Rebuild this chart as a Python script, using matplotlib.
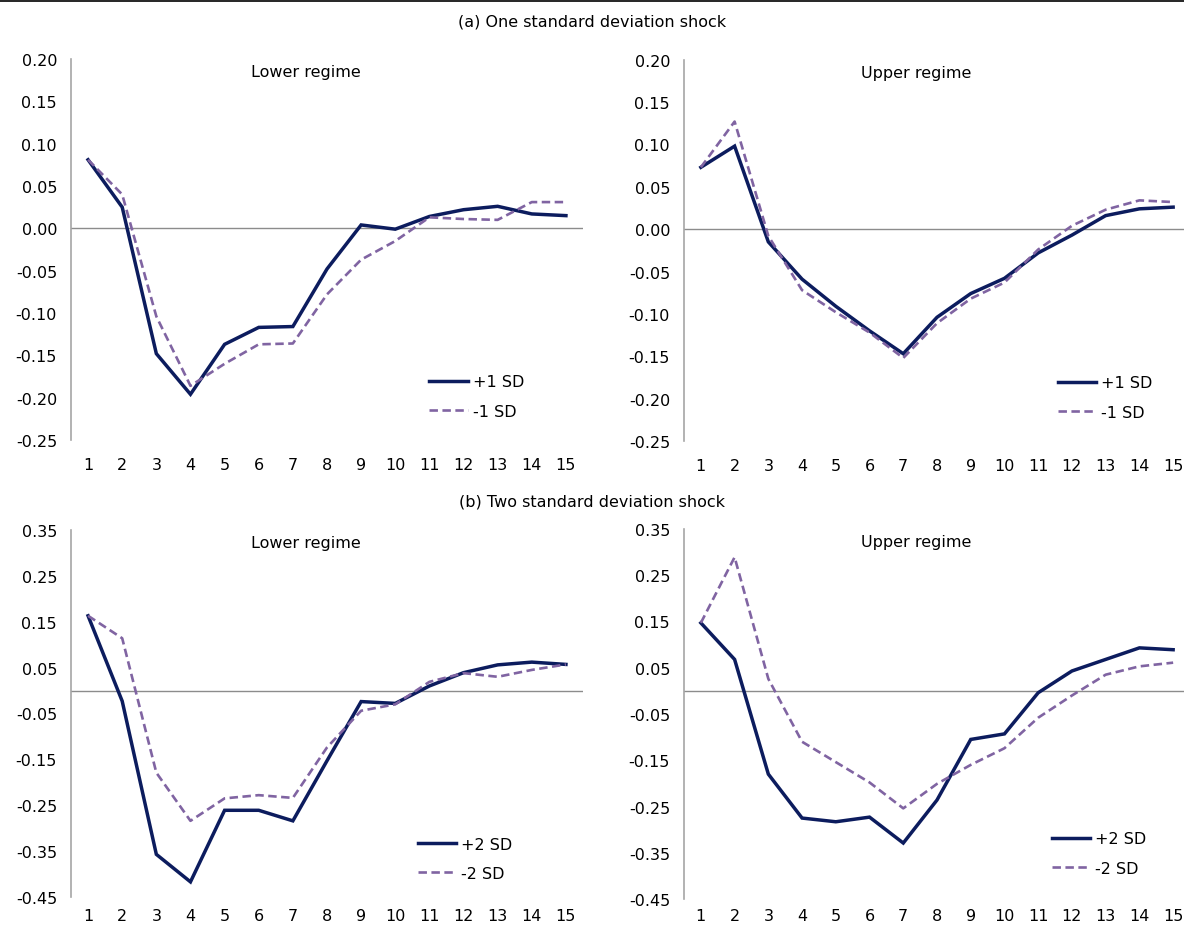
import matplotlib.pyplot as plt
from matplotlib.lines import Line2D

plt.rcParams['font.family'] = ['DejaVu Sans']
plt.rcParams['xtick.labelsize'] = 11.5
plt.rcParams['ytick.labelsize'] = 11.5

periods = list(range(1, 16))

# (a) one standard deviation shock
a_lower_pos = [0.081, 0.025, -0.148, -0.196, -0.137, -0.117, -0.116, -0.048, 0.004, -0.001, 0.014, 0.022, 0.026, 0.017, 0.015]
a_lower_neg = [0.081, 0.040, -0.104, -0.186, -0.160, -0.137, -0.136, -0.078, -0.037, -0.015, 0.013, 0.011, 0.010, 0.031, 0.031]
a_upper_pos = [0.073, 0.098, -0.015, -0.059, -0.091, -0.120, -0.147, -0.104, -0.076, -0.058, -0.028, -0.007, 0.016, 0.024, 0.026]
a_upper_neg = [0.073, 0.127, -0.008, -0.072, -0.098, -0.122, -0.152, -0.111, -0.082, -0.063, -0.024, 0.004, 0.023, 0.034, 0.032]

# (b) two standard deviation shock
b_lower_pos = [0.163, -0.023, -0.357, -0.417, -0.261, -0.261, -0.284, -0.153, -0.024, -0.028, 0.010, 0.039, 0.056, 0.062, 0.057]
b_lower_neg = [0.163, 0.114, -0.179, -0.284, -0.235, -0.228, -0.234, -0.124, -0.044, -0.030, 0.019, 0.038, 0.030, 0.045, 0.057]
b_upper_pos = [0.147, 0.068, -0.180, -0.275, -0.283, -0.273, -0.329, -0.236, -0.105, -0.093, -0.004, 0.043, 0.068, 0.093, 0.089]
b_upper_neg = [0.147, 0.289, 0.026, -0.110, -0.154, -0.198, -0.254, -0.201, -0.160, -0.124, -0.058, -0.010, 0.035, 0.053, 0.061]

a_ticks = [0.20, 0.15, 0.10, 0.05, 0.00, -0.05, -0.10, -0.15, -0.20, -0.25]
b_ticks = [0.35, 0.25, 0.15, 0.05, -0.05, -0.15, -0.25, -0.35, -0.45]

navy = '#0c1c5e'
purple = '#8064a2'

W, H = 1184, 929
fig = plt.figure(figsize=(W / 100, H / 100), dpi=100)


def px_axes(x0, x1, ytop, ybot):
    return fig.add_axes([x0 / W, 1 - ybot / H, (x1 - x0) / W, (ybot - ytop) / H])


def panel(ax, pos, neg, ticks, title, labels, leg_xy, xpad):
    ax.plot(periods, pos, color=navy, lw=2.5, label=labels[0], solid_joinstyle='miter')
    ax.plot(periods, neg, color=purple, lw=1.9, dashes=(3.2, 1.7), label=labels[1])
    ax.axhline(0, color='#8c8c8c', lw=1.0, zorder=0)
    ax.set_xlim(0.5, 15.5)
    ax.set_ylim(min(ticks), max(ticks))
    ax.set_xticks(periods)
    ax.set_yticks(ticks)
    ax.set_yticklabels(['%.2f' % t for t in ticks])
    for s in ['top', 'right', 'bottom']:
        ax.spines[s].set_visible(False)
    ax.spines['left'].set_color('#a6a6a6')
    ax.spines['left'].set_linewidth(1.2)
    ax.tick_params(axis='y', length=0, pad=10)
    ax.tick_params(axis='x', length=0, pad=xpad)
    ax.patch.set_alpha(0)
    ax.text(0.458, 0.966, title, transform=ax.transAxes, ha='center', va='center', fontsize=11.5)
    ax.legend(loc='center left', bbox_to_anchor=leg_xy, frameon=False, fontsize=11.5,
              handlelength=2.4, handletextpad=0.3, labelspacing=0.9,
              borderaxespad=0, borderpad=0)


ax1 = px_axes(71, 583, 60, 441)
panel(ax1, a_lower_pos, a_lower_neg, a_ticks, 'Lower regime', ['+1 SD', '-1 SD'], (0.70, 0.114), 12)
ax2 = px_axes(684, 1190, 60.7, 442)
panel(ax2, a_upper_pos, a_upper_neg, a_ticks, 'Upper regime', ['+1 SD', '-1 SD'], (0.739, 0.114), 12)
ax3 = px_axes(71, 583, 531, 898)
panel(ax3, b_lower_pos, b_lower_neg, b_ticks, 'Lower regime', ['+2 SD', '-2 SD'], (0.678, 0.104), 8)
ax4 = px_axes(684, 1190, 530, 900)
panel(ax4, b_upper_pos, b_upper_neg, b_ticks, 'Upper regime', ['+2 SD', '-2 SD'], (0.727, 0.123), 6.5)

fig.text(592 / W, 1 - 22 / H, '(a) One standard deviation shock', ha='center', va='center', fontsize=11.5)
fig.text(592 / W, 1 - 502 / H, '(b) Two standard deviation shock', ha='center', va='center', fontsize=11.5)
fig.add_artist(Line2D([0, 1], [1 - 2 / H, 1 - 2 / H], transform=fig.transFigure, color='black', lw=1.2))

fig.savefig('out.png', dpi=100)
